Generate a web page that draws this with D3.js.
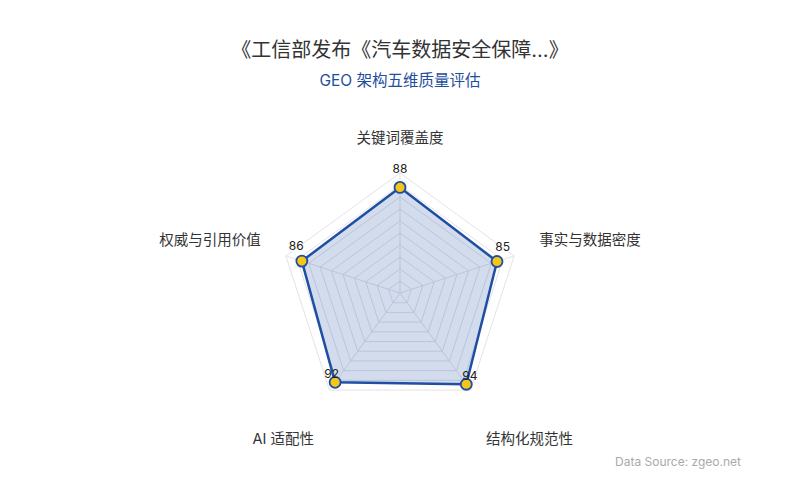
<!DOCTYPE html>
<html>
<head>
<meta charset="utf-8">
<script src="https://cdn.jsdelivr.net/npm/d3@7/dist/d3.min.js"></script>
<style>
  html, body { margin: 0; padding: 0; background: #fff; }
  svg { display: block; font-family: Inter, "Noto Sans CJK SC", "Noto Sans", sans-serif; }
</style>
</head>
<body>
<div id="chart"></div>
<script>
const indicators = ["关键词覆盖度", "事实与数据密度", "结构化规范性", "AI 适配性", "权威与引用价值"];
const scores = [88, 85, 94, 92, 86];
const maxScore = 100;
const ringCount = 10;

const titleText = "《工信部发布《汽车数据安全保障...》";
const subtitleText = "GEO 架构五维质量评估";
const sourceText = "Data Source: zgeo.net";

const width = 800, height = 500;
const cx = 400, cy = 293, R = 120;
const LINE = "#1f4ea3";

const svg = d3.select("#chart")
  .append("svg")
  .attr("width", width)
  .attr("height", height)
  .attr("viewBox", "0 0 " + width + " " + height);

svg.append("text")
  .attr("x", width / 2)
  .attr("y", 50)
  .attr("dy", "0.35em")
  .attr("text-anchor", "middle")
  .attr("fill", "#333")
  .style("font-size", "20px")
  .text(titleText);

svg.append("text")
  .attr("x", width / 2)
  .attr("y", 81)
  .attr("dy", "0.35em")
  .attr("text-anchor", "middle")
  .attr("fill", "#1f4e9c")
  .style("font-size", "15.5px")
  .text(subtitleText);

svg.append("text")
  .attr("x", 741)
  .attr("y", 466)
  .attr("text-anchor", "end")
  .attr("fill", "#aaa")
  .style("font-size", "12px")
  .text(sourceText);

const r = d3.scaleLinear().domain([0, maxScore]).range([0, R]);
const angle = d3.scaleLinear().domain([0, indicators.length]).range([-Math.PI / 2, 1.5 * Math.PI]);

function pt(i, v) {
  const a = angle(i);
  return [cx + Math.cos(a) * r(v), cy + Math.sin(a) * r(v)];
}

const g = svg.append("g");

// grid rings
d3.range(1, ringCount + 1).forEach((k) => {
  const v = maxScore * k / ringCount;
  g.append("polygon")
    .attr("points", indicators.map((d, i) => pt(i, v).join(",")).join(" "))
    .attr("fill", "none")
    .attr("stroke", "#e3e3e8")
    .attr("stroke-width", 1);
});

// spokes
indicators.forEach((d, i) => {
  const p = pt(i, maxScore);
  g.append("line")
    .attr("x1", cx).attr("y1", cy)
    .attr("x2", p[0]).attr("y2", p[1])
    .attr("stroke", "#e3e3e8")
    .attr("stroke-width", 1);
});

// data area
g.append("polygon")
  .attr("points", scores.map((v, i) => pt(i, v).join(",")).join(" "))
  .attr("fill", LINE)
  .attr("fill-opacity", 0.2)
  .attr("stroke", LINE)
  .attr("stroke-width", 2.5)
  .attr("stroke-linejoin", "round");

// points
scores.forEach((v, i) => {
  const p = pt(i, v);
  g.append("circle")
    .attr("cx", p[0]).attr("cy", p[1])
    .attr("r", 5.5)
    .attr("fill", "#f5c518")
    .attr("stroke", LINE)
    .attr("stroke-width", 1.8);
});

// value labels
scores.forEach((v, i) => {
  const p = pt(i, v);
  const a = angle(i);
  g.append("text")
    .attr("x", p[0] + Math.cos(a) * 6)
    .attr("y", p[1] - 13 + Math.sin(a) * 6)
    .attr("dy", "0.35em")
    .attr("text-anchor", "middle")
    .attr("fill", "#222")
    .style("font-size", "12px")
    .text(v);
});

// indicator names
indicators.forEach((name, i) => {
  const a = angle(i);
  const c = Math.cos(a), s = Math.sin(a);
  const p = pt(i, maxScore * 1.22);
  let anchor = "middle", y = p[1];
  if (c > 0.1) anchor = "start";
  else if (c < -0.1) anchor = "end";
  if (s < -0.9) y = p[1] - 9;
  else if (s > 0.5) y = p[1] + 27;
  else y = p[1] - 8;
  g.append("text")
    .attr("x", p[0])
    .attr("y", y)
    .attr("dy", "0.35em")
    .attr("text-anchor", anchor)
    .attr("fill", "#333")
    .style("font-size", "14.5px")
    .text(name);
});
</script>
</body>
</html>
